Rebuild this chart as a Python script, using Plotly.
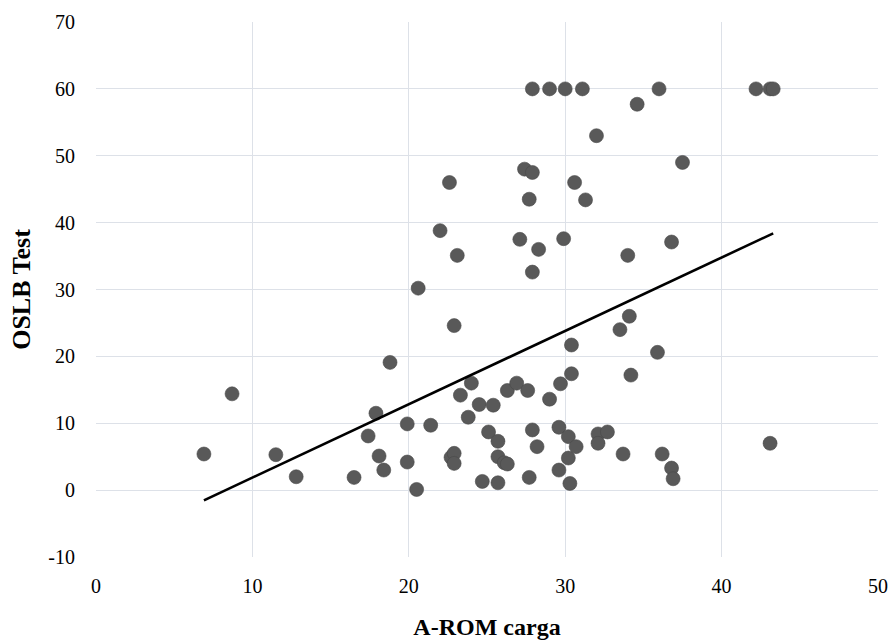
import numpy as np
import plotly.graph_objects as go

arom_carga = [6.9, 8.7, 11.5, 12.8, 16.5, 17.4, 17.9, 18.1, 18.4, 18.8,
              19.9, 19.9, 20.5, 20.6, 21.4, 22.0, 22.6, 22.7, 22.9, 22.9,
              22.9, 23.1, 23.3, 23.8, 24.0, 24.5, 24.7, 25.1, 25.4, 25.7,
              25.7, 25.7, 26.1, 26.3, 26.3, 26.9, 27.1, 27.4, 27.6, 27.7,
              27.7, 27.9, 27.9, 27.9, 27.9, 28.2, 28.3, 29.0, 29.0, 29.6,
              29.6, 29.7, 29.9, 30.0, 30.2, 30.2, 30.3, 30.4, 30.4, 30.6,
              30.7, 31.1, 31.3, 32.1, 32.1, 32.0, 32.7, 33.5, 33.7, 34.0,
              34.1, 34.2, 34.6, 35.9, 36.0, 36.2, 36.8, 36.8, 36.9, 37.5,
              42.2, 43.1, 43.3, 43.1]
oslb_test = [5.4, 14.4, 5.3, 2.0, 1.9, 8.1, 11.5, 5.1, 3.0, 19.1,
             9.9, 4.2, 0.1, 30.2, 9.7, 38.8, 46.0, 4.9, 5.5, 4.0,
             24.6, 35.1, 14.2, 10.9, 16.0, 12.8, 1.3, 8.7, 12.7, 7.3,
             5.0, 1.1, 4.1, 3.9, 14.9, 16.0, 37.5, 48.0, 14.9, 1.9,
             43.5, 47.5, 60.0, 32.6, 9.0, 6.5, 36.0, 60.0, 13.6, 3.0,
             9.4, 15.9, 37.6, 60.0, 8.0, 4.8, 1.0, 17.4, 21.7, 46.0,
             6.5, 60.0, 43.4, 8.4, 7.0, 53.0, 8.7, 24.0, 5.4, 35.1,
             26.0, 17.2, 57.7, 20.6, 60.0, 5.4, 37.1, 3.3, 1.7, 49.0,
             60.0, 60.0, 60.0, 7.0]

x_ticks = [0, 10, 20, 30, 40, 50]
x_tick_labels = ["0", "10", "20", "30", "40", "50"]
y_ticks = [-10, 0, 10, 20, 30, 40, 50, 60, 70]
y_tick_labels = ["-10", "0", "10", "20", "30", "40", "50", "60", "70"]

x = np.array(arom_carga)
y = np.array(oslb_test)
slope, intercept = np.polyfit(x, y, 1)
x_line = np.array([x.min(), x.max()])
y_line = slope * x_line + intercept

fig = go.Figure()
fig.add_trace(go.Scatter(
    x=arom_carga, y=oslb_test, mode="markers",
    marker=dict(size=14, color="#595959", line=dict(width=0.6, color="#4a4a4a")),
    showlegend=False, hoverinfo="x+y"))
fig.add_trace(go.Scatter(
    x=x_line, y=y_line, mode="lines",
    line=dict(color="#000000", width=2.6), showlegend=False))

font_family = "Liberation Serif, Times New Roman, serif"
fig.update_layout(
    width=894, height=640,
    margin=dict(l=96, r=16, t=22, b=83),
    paper_bgcolor="white", plot_bgcolor="white",
    font=dict(family=font_family, size=20, color="#000000"),
    xaxis=dict(range=[0, 50], tickvals=x_ticks, ticktext=x_tick_labels, showgrid=True,
               gridcolor="#dde1e8", gridwidth=1.3, zeroline=False,
               showline=False, ticks="", tickfont=dict(size=20), ticklabelstandoff=15,
               automargin=False,
               title=dict(text="<b>A-ROM carga</b>", font=dict(size=24), standoff=23)),
    yaxis=dict(range=[-10, 70], tickvals=y_ticks, ticktext=y_tick_labels, showgrid=True,
               gridcolor="#dde1e8", gridwidth=1.3, zeroline=False,
               showline=False, ticks="", tickfont=dict(size=20), ticklabelstandoff=20,
               automargin=False,
               title=dict(text="<b>OSLB Test</b>", font=dict(size=26), standoff=10)),
)
fig.write_html("out.html")
